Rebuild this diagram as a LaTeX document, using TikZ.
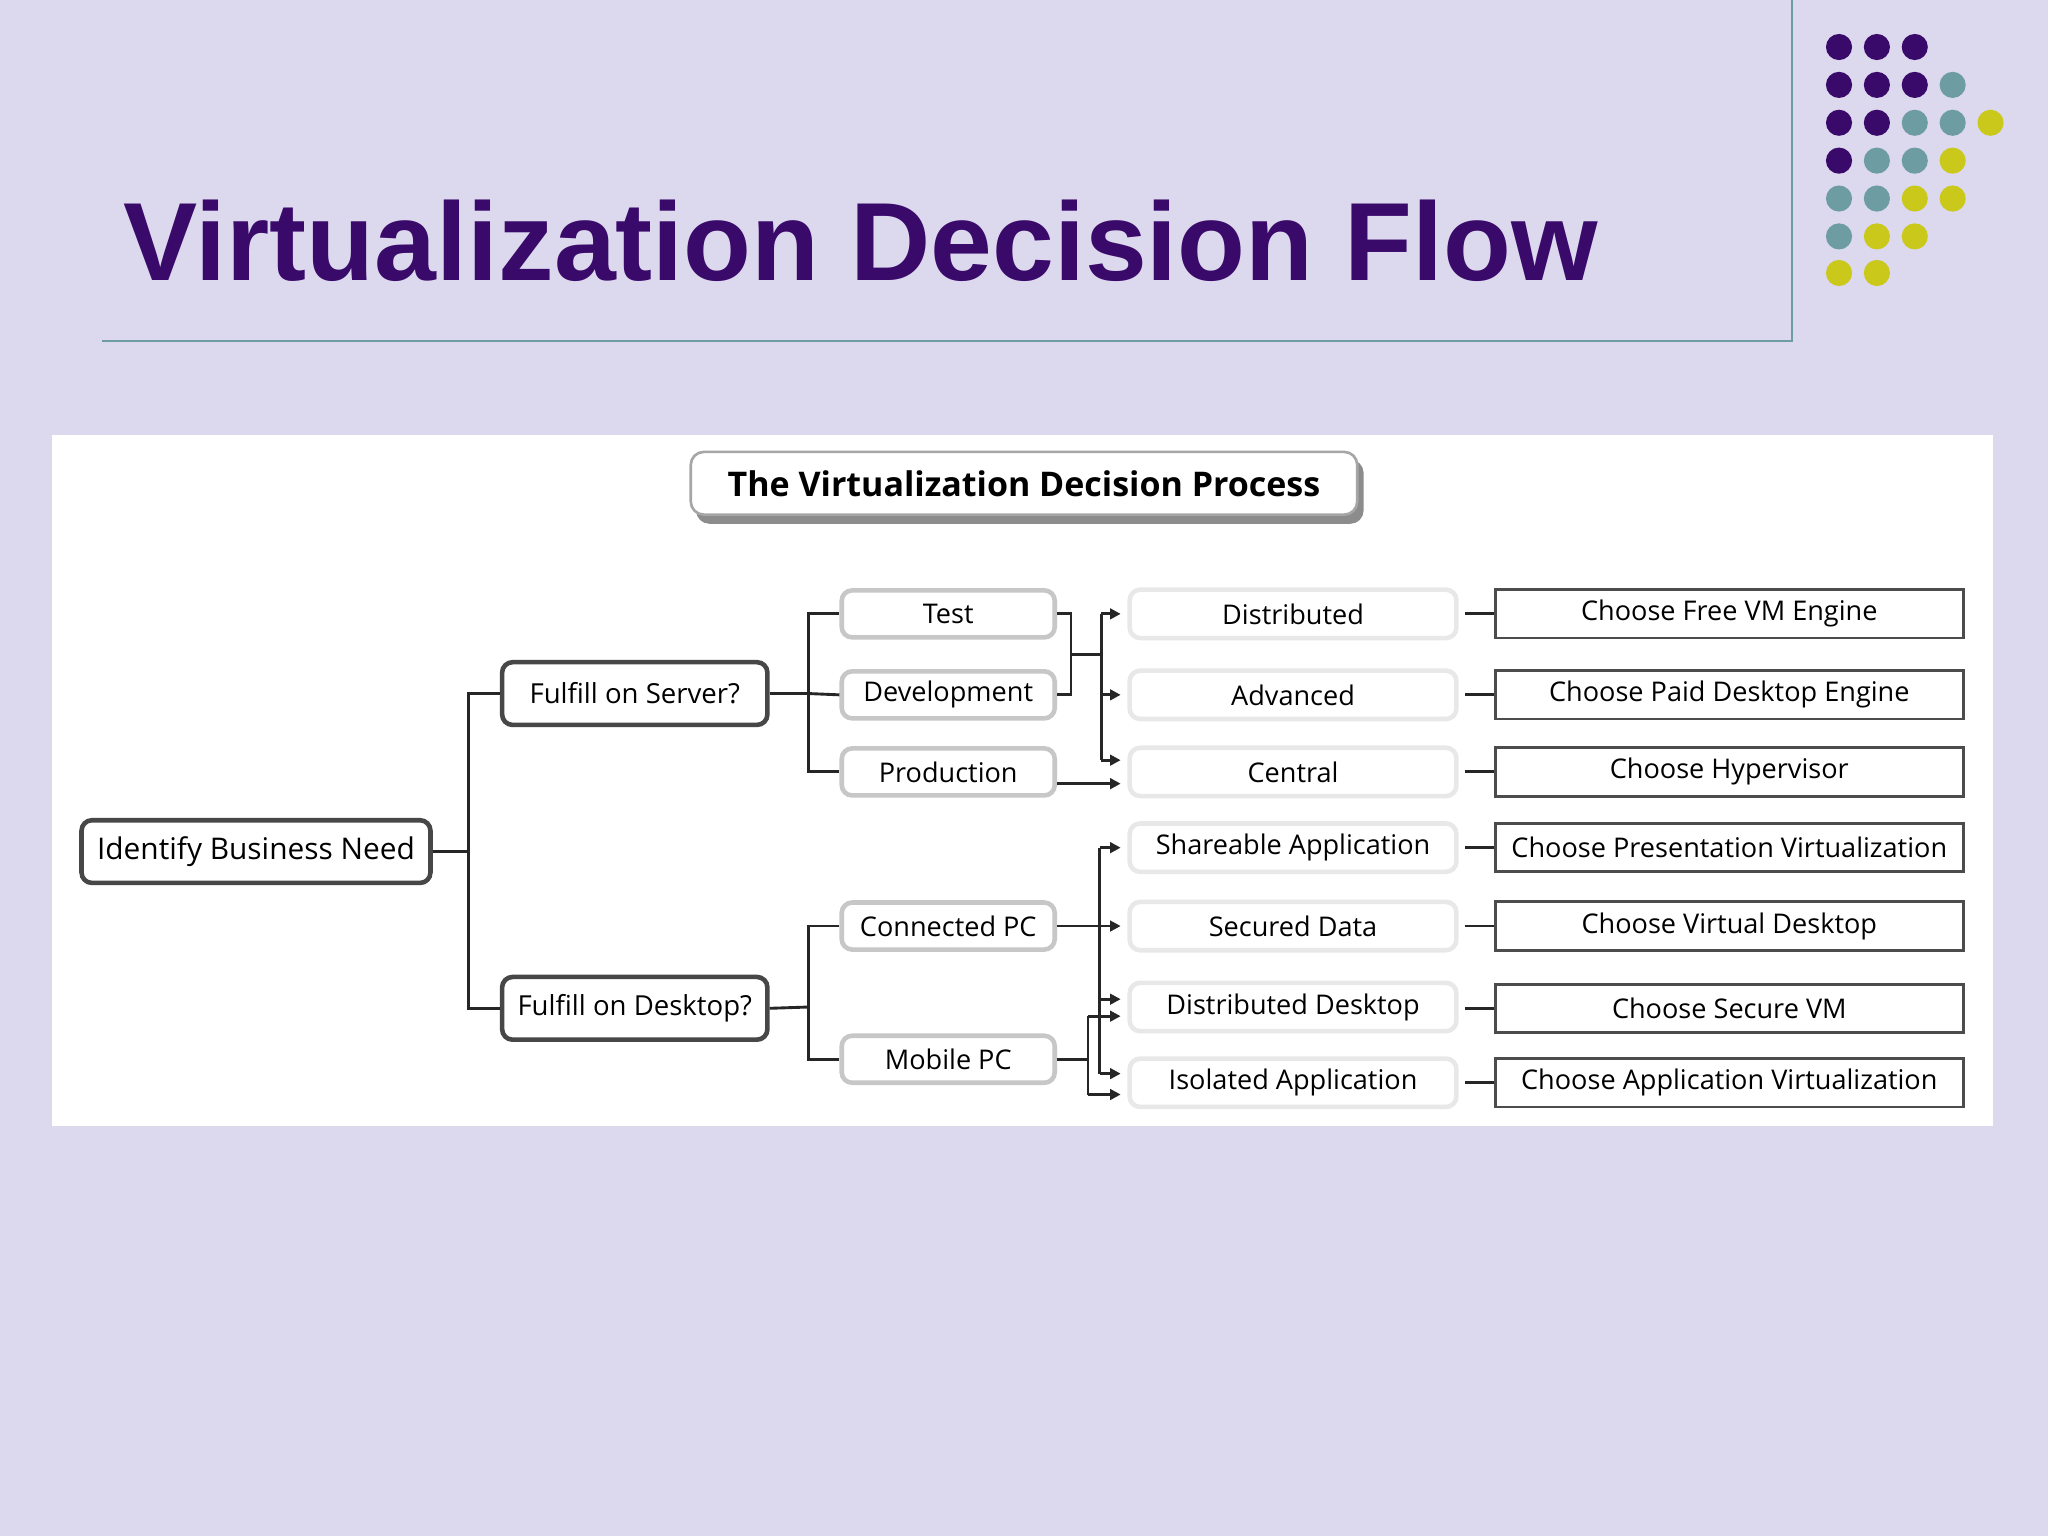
\documentclass[tikz,border=0pt]{standalone}
\usepackage{fontspec}
\setmainfont{Open Sans}
\newfontfamily\titlefont{Liberation Sans}
\usetikzlibrary{arrows.meta}
\definecolor{bgc}{HTML}{DCD8EE}
\definecolor{pur}{HTML}{3A0A6A}
\definecolor{teal}{HTML}{6D9DA2}
\definecolor{yel}{HTML}{C9C81B}
\tikzset{
 main/.style={draw=black!72,line width=0.035cm,rounded corners=0.08cm,fill=white,minimum width=2.67cm,minimum height=0.48cm,font=\fontsize{6.5}{8}\selectfont,inner sep=0pt},
 mid/.style={draw=black!22,line width=0.035cm,rounded corners=0.08cm,fill=white,minimum width=1.63cm,minimum height=0.36cm,font=\fontsize{5.9}{7}\selectfont,inner sep=0pt},
 opt/.style={draw=black!9,line width=0.035cm,rounded corners=0.08cm,fill=white,minimum width=2.5cm,minimum height=0.37cm,font=\fontsize{5.9}{7}\selectfont,inner sep=0pt},
 res/.style={draw=black!70,line width=0.022cm,fill=white,minimum width=3.58cm,minimum height=0.37cm,font=\fontsize{5.9}{7}\selectfont,inner sep=0pt},
 ln/.style={draw=black!85,line width=0.022cm},
 ar/.style={ln,-{Triangle[length=0.08cm,width=0.08cm]}},
 dot/.style={circle,inner sep=0pt,minimum size=0.2cm},
}
\begin{document}
\begin{tikzpicture}[x=0.01cm,y=-0.01cm]
\fill[bgc] (0,0) rectangle (1568,1176);
\useasboundingbox (0,0) rectangle (1568,1176);
\node[anchor=base west,text=pur,font=\titlefont\bfseries\fontsize{24.2}{28}\selectfont,inner sep=0pt] (title) at (94,215) {Virtualization Decision Flow};
\draw[teal,line width=0.012cm] (78,261) -- (1372,261) -- (1372,0);
% dots
\foreach \x/\y/\c in {1408/36/pur,1437/36/pur,1466/36/pur,
 1408/65/pur,1437/65/pur,1466/65/pur,1495/65/teal,
 1408/94/pur,1437/94/pur,1466/94/teal,1495/94/teal,1524/94/yel,
 1408/123/pur,1437/123/teal,1466/123/teal,1495/123/yel,
 1408/152/teal,1437/152/teal,1466/152/yel,1495/152/yel,
 1408/181/teal,1437/181/yel,1466/181/yel,
 1408/209/yel,1437/209/yel}
 \node[dot,fill=\c] at (\x,\y) {};
\fill[white] (40,333) rectangle (1526,862);
% header
\fill[black!45,rounded corners=0.1cm] (533,352) rectangle (1044,401);
\node[draw=black!35,line width=0.02cm,fill=white,rounded corners=0.1cm,minimum width=5.1cm,minimum height=0.48cm,font=\bfseries\fontsize{7.4}{9}\selectfont,inner sep=0pt] (hdr) at (784,370) {The Virtualization Decision Process};
% main nodes
\node[main] (ibn) at (196,652) {Identify Business Need};
\node[main,minimum width=2.03cm,font=\fontsize{6}{7}\selectfont] (srv) at (486,531) {Fulfill on Server?};
\node[main,minimum width=2.03cm,font=\fontsize{6}{7}\selectfont] (dsk) at (486,772) {Fulfill on Desktop?};
\node[mid] (test) at (726,470) {Test};
\node[mid] (dev) at (726,532) {Development};
\node[mid] (prod) at (726,591) {Production};
\node[mid] (cpc) at (726,709) {Connected PC};
\node[mid] (mpc) at (726,811) {Mobile PC};
\foreach \n/\y/\t in {o1/470/Distributed,o2/532/Advanced,o3/591/Central,o4/649/Shareable Application,o5/709/Secured Data,o6/771/Distributed Desktop,o7/829/Isolated Application}
 \node[opt] (\n) at (990,\y) {\t};
\foreach \n/\y/\t in {r1/470/Choose Free VM Engine,r2/532/Choose Paid Desktop Engine,r3/591/Choose Hypervisor,r4/649/Choose Presentation Virtualization,r5/709/Choose Virtual Desktop,r6/772/Choose Secure VM,r7/829/Choose Application Virtualization}
 \node[res] (\n) at (1324,\y) {\t};
\foreach \i in {1,...,7} \draw[ln] (o\i.east |- r\i.west) ++(5,0) -- (r\i.west);
% tree
\coordinate (j1) at (359,652);
\draw[ln] (ibn.east) -- (j1);
\draw[ln] (srv.west) -| (j1) |- (dsk.west);
\coordinate (j2) at (619,531);
\draw[ln] (srv.east) -- (j2);
\draw[ln] (test.west) -| (j2) |- (prod.west);
\draw[ln] (j2) -- (dev.west);
\coordinate (j3) at (619,771);
\draw[ln] (dsk.east) -- (j3);
\draw[ln] (cpc.west) -| (j3) |- (mpc.west);
% test/dev
\draw[ln] (test.east) -- (820,470) -- (820,532) -- (dev.east);
\draw[ln] (820,501) -- (843,501);
\draw[ln] (843,470) -- (843,582);
\draw[ar] (843,470) -- (858,470);
\draw[ar] (843,532) -- (858,532);
\draw[ar] (843,582) -- (858,582);
\draw[ar] (prod.east) ++(0,9) -- (858,600);
% desktop
\draw[ln] (842,649) -- (842,822);
\draw[ar] (842,649) -- (858,649);
\draw[ar] (cpc.east) -- (858,709);
\draw[ar] (842,765) -- (858,765);
\draw[ar] (842,822) -- (858,822);
\draw[ln] (mpc.east) -- (833,811);
\draw[ln] (833,778) -- (833,838);
\draw[ar] (833,778) -- (858,778);
\draw[ar] (833,838) -- (858,838);
\end{tikzpicture}
\end{document}
